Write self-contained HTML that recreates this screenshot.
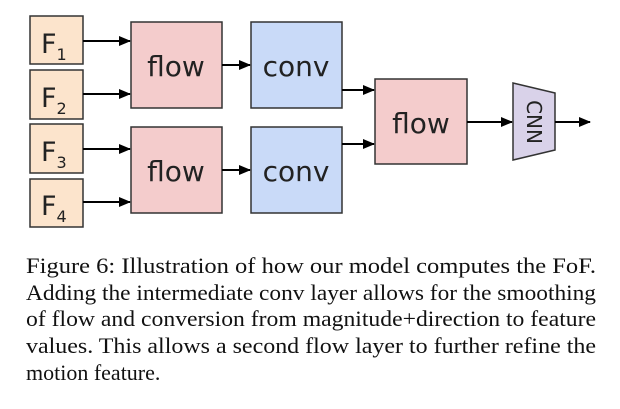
<!DOCTYPE html>
<html><head><style>body{margin:0;background:#fff}svg{display:block}</style></head>
<body>
<svg width="620" height="409" viewBox="0 0 620 409" xmlns="http://www.w3.org/2000/svg">
<defs><marker id="a" markerWidth="12" markerHeight="10" refX="11" refY="5" orient="auto" markerUnits="userSpaceOnUse"><path d="M0,0 L12,5 L0,10 z" fill="#000"/></marker></defs>
<g stroke="#333" stroke-width="1.5">
<rect x="30" y="16" width="53" height="48" fill="#fce4cc"/>
<rect x="30" y="70" width="53" height="49" fill="#fce4cc"/>
<rect x="30" y="124" width="53" height="49" fill="#fce4cc"/>
<rect x="30" y="179" width="53" height="48" fill="#fce4cc"/>
<rect x="131" y="22" width="91" height="86" fill="#f4cccc"/>
<rect x="131" y="127" width="91" height="86" fill="#f4cccc"/>
<rect x="251" y="22" width="91" height="86" fill="#c9daf8"/>
<rect x="251" y="127" width="91" height="86" fill="#c9daf8"/>
<rect x="375" y="79" width="92" height="85" fill="#f4cccc"/>
<path d="M513,83 L555,93 L555,150 L513,160 z" fill="#d9d2e9"/>
</g>
<g stroke="#000" stroke-width="2" marker-end="url(#a)">
<line x1="83" y1="41" x2="130" y2="41"/>
<line x1="83" y1="94" x2="130" y2="94"/>
<line x1="83" y1="149" x2="130" y2="149"/>
<line x1="83" y1="202" x2="130" y2="202"/>
<line x1="222" y1="65" x2="250" y2="65"/>
<line x1="222" y1="170" x2="250" y2="170"/>
<line x1="342" y1="90" x2="374" y2="90"/>
<line x1="342" y1="144" x2="374" y2="144"/>
<line x1="467" y1="122" x2="512" y2="122"/>
<line x1="555" y1="122" x2="590" y2="122"/>
</g>
<g font-family="DejaVu Sans, sans-serif" fill="#222">
<text x="41" y="53" font-size="27">F<tspan font-size="16" dy="7">1</tspan></text>
<text x="41" y="107" font-size="27">F<tspan font-size="16" dy="7">2</tspan></text>
<text x="41" y="161" font-size="27">F<tspan font-size="16" dy="7">3</tspan></text>
<text x="41" y="215" font-size="27">F<tspan font-size="16" dy="7">4</tspan></text>
<text x="176" y="76" font-size="28" text-anchor="middle">flow</text>
<text x="176" y="181" font-size="28" text-anchor="middle">flow</text>
<text x="296" y="76" font-size="28" text-anchor="middle">conv</text>
<text x="296" y="181" font-size="28" text-anchor="middle">conv</text>
<text x="421" y="133" font-size="28" text-anchor="middle">flow</text>
<text transform="translate(527,122) rotate(90)" font-size="20" text-anchor="middle">CNN</text>
</g>
<g font-family="Liberation Serif, serif" font-size="22" fill="#111">
<text x="26" y="273" textLength="570" lengthAdjust="spacingAndGlyphs">Figure 6: Illustration of how our model computes the FoF.</text>
<text x="26" y="300" textLength="570" lengthAdjust="spacingAndGlyphs">Adding the intermediate conv layer allows for the smoothing</text>
<text x="26" y="326" textLength="570" lengthAdjust="spacingAndGlyphs">of flow and conversion from magnitude+direction to feature</text>
<text x="26" y="353" textLength="570" lengthAdjust="spacingAndGlyphs">values. This allows a second flow layer to further refine the</text>
<text x="26" y="380">motion feature.</text>
</g>
</svg>
</body></html>
